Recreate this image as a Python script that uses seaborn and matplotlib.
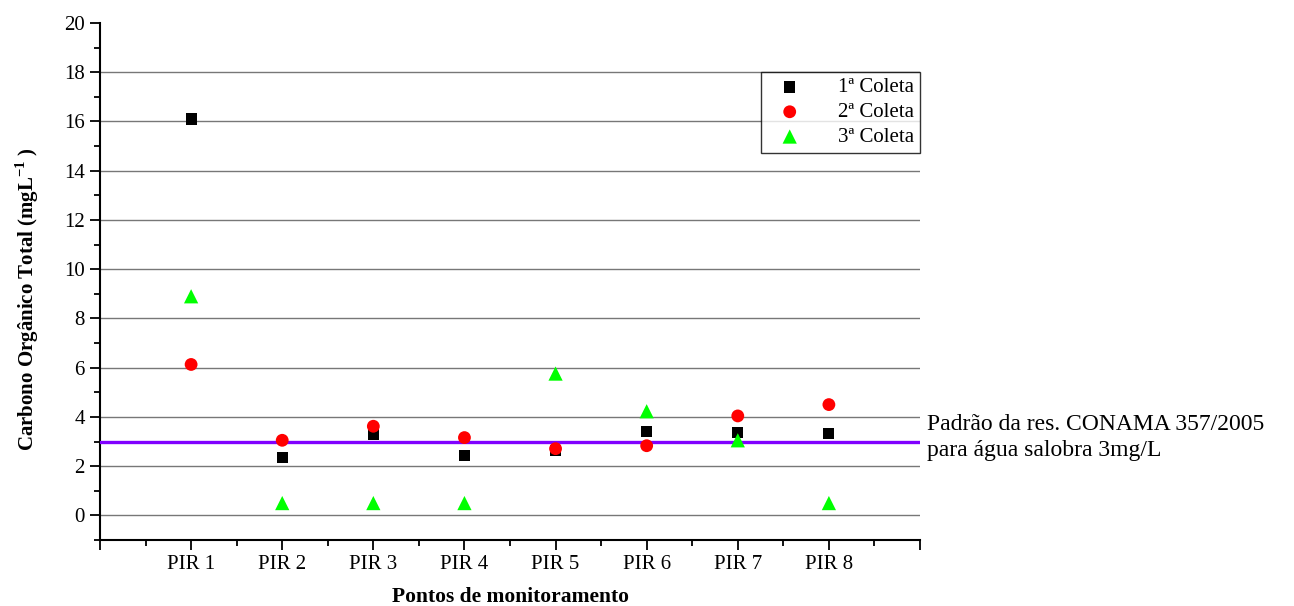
import numpy as np
import pandas as pd
import matplotlib
matplotlib.use("Agg")
import matplotlib.pyplot as plt
import seaborn as sns
from matplotlib.ticker import MultipleLocator

points = ["PIR 1", "PIR 2", "PIR 3", "PIR 4", "PIR 5", "PIR 6", "PIR 7", "PIR 8"]
coleta1 = [16.1, 2.35, 3.28, 2.44, 2.64, 3.41, 3.36, 3.32]
coleta2 = [6.13, 3.05, 3.62, 3.16, 2.71, 2.83, 4.04, 4.5]
coleta3 = [8.9, 0.5, 0.5, 0.5, 5.76, 4.23, 3.05, 0.5]
series_names = ["1ª Coleta", "2ª Coleta", "3ª Coleta"]
limit_value = 3.0
limit_text = "Padrão da res. CONAMA 357/2005\npara água salobra 3mg/L"

sns.set_theme(style="white")
plt.rcParams["font.family"] = ["Liberation Serif", "DejaVu Serif"]
plt.rcParams["mathtext.fontset"] = "custom"
plt.rcParams["mathtext.rm"] = "Liberation Serif"
plt.rcParams["mathtext.bf"] = "Liberation Serif:bold"
plt.rcParams["text.color"] = "black"
plt.rcParams["axes.labelcolor"] = "black"
plt.rcParams["xtick.color"] = "black"
plt.rcParams["ytick.color"] = "black"

fig = plt.figure(figsize=(12.94, 6.06), dpi=100)
ax = fig.add_axes([100/1294, 1-540/606, 820/1294, 517/606])

xpos = np.arange(1, len(points) + 1)
df = pd.DataFrame({"x": np.tile(xpos, 3),
                   "y": coleta1 + coleta2 + coleta3,
                   "serie": np.repeat(series_names, len(points))})

styles = {"1ª Coleta": ("s", "black", 65),
          "2ª Coleta": ("o", "#ff0000", 85),
          "3ª Coleta": ("^", "#00ff00", 105)}
for name in series_names:
    m, c, s = styles[name]
    sns.scatterplot(data=df[df.serie == name], x="x", y="y", marker=m, color=c,
                    s=s, edgecolor="none", label=name, ax=ax, zorder=4)

ax.axhline(limit_value, color="#8000ff", lw=2.4, zorder=3)
ax.text(1.008, (limit_value - (-1)) / 21 + 0.008, limit_text, transform=ax.transAxes,
        ha="left", va="center", fontsize=17, linespacing=1.3, color="black")

ax.set_xlim(0, 9)
ax.set_ylim(-1, 20)
ax.xaxis.set_minor_locator(MultipleLocator(0.5))
ax.yaxis.set_minor_locator(MultipleLocator(1))
ax.set_xticks(np.arange(0, 10))
ax.set_xticklabels([""] + points + [""])
ax.set_yticks(np.arange(0, 21, 2))
ax.set_yticklabels([str(v) for v in range(0, 21, 2)])

ax.tick_params(axis="both", which="major", direction="out", length=7, width=1.3,
               color="black", labelsize=15, bottom=True, left=True, labelcolor="black")
ax.tick_params(axis="both", which="minor", direction="out", length=4, width=1.3,
               color="black", bottom=True, left=True)
ax.tick_params(axis="x", pad=4)
ax.tick_params(axis="y", pad=4)

ax.yaxis.grid(True, which="major", color="#777777", lw=1.0, zorder=0)
ax.xaxis.grid(False)
ygl = ax.get_ygridlines()
ygl[-1].set_visible(False)

for sp in ["top", "right"]:
    ax.spines[sp].set_visible(False)
for sp in ["left", "bottom"]:
    ax.spines[sp].set_color("black")
    ax.spines[sp].set_linewidth(1.5)

ax.set_xlabel("Pontos de monitoramento", fontsize=15.5, fontweight="bold", color="black")
ax.xaxis.set_label_coords(0.5, -0.120)
ax.xaxis.label.set_va("baseline")
ax.set_ylabel(r"Carbono Orgânico Total (mgL$^{\mathbf{-1}}$ )", fontsize=15,
              fontweight="bold", color="black")
ax.yaxis.set_label_coords(-0.072, 0.466)

leg = ax.legend(loc="upper right", bbox_to_anchor=(1.0, 0.906), frameon=True,
                fancybox=False, edgecolor="black", fontsize=15, borderpad=0.3,
                handletextpad=1.2, labelspacing=0.25, handlelength=2.2,
                borderaxespad=0)
leg.get_frame().set_linewidth(1.0)
for t in leg.get_texts():
    t.set_color("black")

fig.savefig("out.png", dpi=100)
